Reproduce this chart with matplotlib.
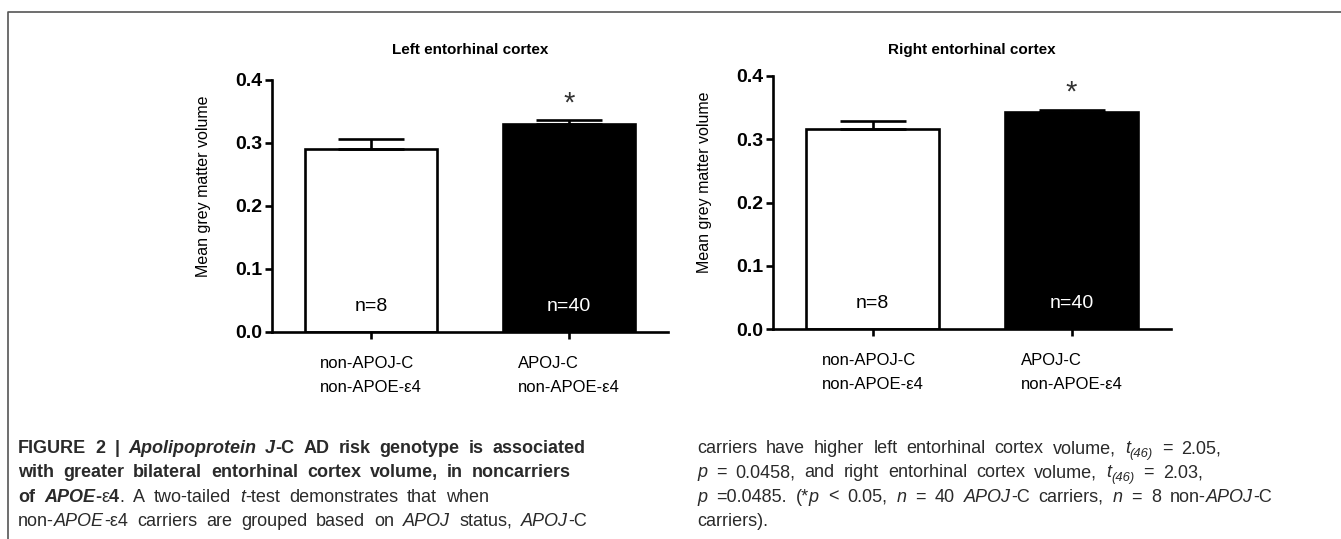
import matplotlib
matplotlib.use("Agg")
import matplotlib.pyplot as plt
from matplotlib.lines import Line2D

plt.rcParams["font.family"] = ["Liberation Sans", "DejaVu Sans"]

W, H = 1341, 539

# data
groups = ["non-APOJ-C\nnon-APOE-\u03b54", "APOJ-C\nnon-APOE-\u03b54"]
n_labels = ["n=8", "n=40"]
left_means = [0.291, 0.330]
left_err = [0.015, 0.006]
right_means = [0.316, 0.343]
right_err = [0.013, 0.004]
yticks = [0.0, 0.1, 0.2, 0.3, 0.4]
titles = ["Left entorhinal cortex", "Right entorhinal cortex"]
ylabel = "Mean grey matter volume"

# caption lines: (text, weight, style)
B, R = "bold", "normal"
cap_left = [
    [("FIGURE 2 | ", B, "normal"), ("Apolipoprotein J", B, "italic"),
     ("-C AD risk genotype is associated", B, "normal")],
    [("with greater bilateral entorhinal cortex volume, in noncarriers", B, "normal")],
    [("of ", B, "normal"), ("APOE", B, "italic"), ("-", B, "normal"), ("\u03b5", R, "normal"),
     ("4", B, "normal"), (". A two-tailed ", R, "normal"), ("t", R, "italic"),
     ("-test demonstrates that when", R, "normal")],
    [("non-", R, "normal"), ("APOE", R, "italic"), ("-\u03b54 carriers are grouped based on ", R, "normal"),
     ("APOJ", R, "italic"), (" status, ", R, "normal"), ("APOJ", R, "italic"), ("-C", R, "normal")],
]
cap_right = [
    [("carriers have higher left entorhinal cortex volume, ", R, "normal"), ("t", R, "italic"),
     ("(46)", R, "sub"), (" = 2.05,", R, "normal")],
    [("p", R, "italic"), (" = 0.0458, and right entorhinal cortex volume, ", R, "normal"),
     ("t", R, "italic"), ("(46)", R, "sub"), (" = 2.03,", R, "normal")],
    [("p", R, "italic"), (" =0.0485. (*", R, "normal"), ("p", R, "italic"), (" < 0.05, ", R, "normal"),
     ("n", R, "italic"), (" = 40 ", R, "normal"), ("APOJ", R, "italic"),
     ("-C carriers, ", R, "normal"), ("n", R, "italic"), (" = 8 non-", R, "normal"),
     ("APOJ", R, "italic"), ("-C", R, "normal")],
    [("carriers).", R, "normal")],
]

fig = plt.figure(figsize=(W / 100, H / 100), dpi=100)

# frame around figure (top and left only)
fig.add_artist(Line2D([8 / W, 8 / W, 1], [0, 1 - 12 / H, 1 - 12 / H],
                      transform=fig.transFigure, color="#555555", lw=1.2))

LW = 1.9


def draw_panel(rect, means, errs, title, title_pad, label_x):
    ax = fig.add_axes(rect)
    x = [0, 1]
    ax.bar(x, means, width=0.67, color=["white", "black"], edgecolor="black",
           linewidth=LW, zorder=2)
    ax.errorbar(x, means, yerr=[[0, 0], errs], fmt="none", ecolor="black",
                elinewidth=LW, capsize=24, capthick=LW, zorder=3)
    for xi, lab, c in zip(x, n_labels, ["black", "white"]):
        ax.text(xi, 0.04, lab, ha="center", va="center", fontsize=14, color=c, zorder=4)
    ax.text(1, means[1] + errs[1] + 0.004, "*", ha="center", va="bottom", fontsize=21,
            color="#333333")
    ax.set_xlim(-0.5, 1.5)
    ax.set_ylim(0, 0.4)
    ax.set_yticks(yticks)
    ax.set_yticklabels([f"{v:.1f}" for v in yticks], fontsize=14, fontweight="bold")
    ax.set_xticks(x)
    ax.set_xticklabels(groups, fontsize=12, multialignment="left", linespacing=1.75)
    ax.tick_params(axis="both", width=LW, length=5, direction="out")
    ax.tick_params(axis="x", pad=12)
    ax.tick_params(axis="y", pad=2)
    for s in ["top", "right"]:
        ax.spines[s].set_visible(False)
    for s in ["left", "bottom"]:
        ax.spines[s].set_linewidth(LW)
    ax.set_ylabel(ylabel, fontsize=11.5)
    ax.yaxis.set_label_coords(label_x, 0.58)
    ax.set_title(title, fontsize=11, fontweight="bold", pad=title_pad)
    return ax


draw_panel([272 / W, 1 - 332 / H, 396 / W, 252 / H], left_means, left_err, titles[0],
           18.5, -61 / 396)
draw_panel([773 / W, 1 - 329 / H, 398 / W, 253 / H], right_means, right_err, titles[1],
           15.5, -61 / 398)

# caption, drawn word by word so styles can mix inside a line
renderer = fig.canvas.get_renderer()
CAP_SIZE = 13
CAP_COLOR = "#2a2a2a"
SPACE_FACTOR = 1.8


def text_width(s, **kw):
    t = fig.text(0, 0, s, **kw)
    w = t.get_window_extent(renderer).width
    t.remove()
    return w


def draw_line(runs, x0, y0):
    x = x0
    for txt, weight, style in runs:
        size = CAP_SIZE
        dy = 0
        if style == "sub":
            style = "italic"
            size = CAP_SIZE * 0.72
            dy = -4
        kw = dict(fontsize=size, fontweight=weight, fontstyle=style, color=CAP_COLOR)
        sp = (text_width("n n", **kw) - text_width("nn", **kw)) * SPACE_FACTOR
        parts = txt.split(" ")
        for i, part in enumerate(parts):
            if i > 0:
                x += sp
            if part:
                fig.text(x / W, 1 - (y0 - dy) / H, part, va="baseline", ha="left", **kw)
                x += text_width(part, **kw)


for i, line in enumerate(cap_left):
    draw_line(line, 18, 453 + i * 24.3)
for i, line in enumerate(cap_right):
    draw_line(line, 697, 453 + i * 24.3)

fig.savefig("out.png", dpi=100)
